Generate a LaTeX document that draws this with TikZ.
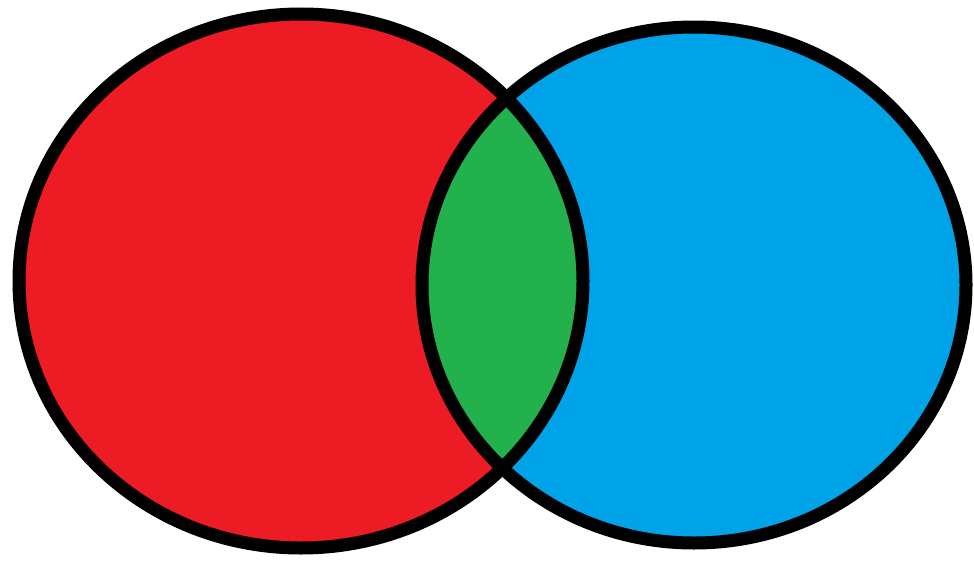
\documentclass[tikz,border=0pt]{standalone}
\usepackage{xcolor}
\definecolor{setred}{HTML}{ED1C24}
\definecolor{setblue}{HTML}{00A2E8}
\definecolor{setgreen}{HTML}{22B14C}

\begin{document}
\begin{tikzpicture}[x=0.02cm, y=-0.02cm,
  rim/.style={draw=black, line width=13*0.02cm}]
\useasboundingbox (0,0) rectangle (974,561);
% the two sets
\fill[setred]  (301,281) ellipse [x radius=282, y radius=267];
\fill[setblue] (694,285) ellipse [x radius=272, y radius=258];
% overlap
\begin{scope}
  \clip (301,281) ellipse [x radius=282, y radius=267];
  \fill[setgreen] (694,285) ellipse [x radius=272, y radius=258];
\end{scope}
% outlines
\draw[rim] (301,281) ellipse [x radius=282, y radius=267];
\draw[rim] (694,285) ellipse [x radius=272, y radius=258];
\end{tikzpicture}
\end{document}
